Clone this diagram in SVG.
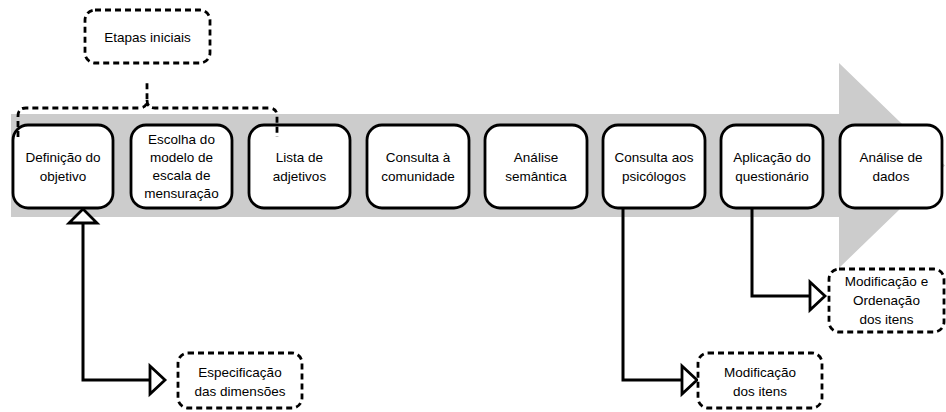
<svg xmlns="http://www.w3.org/2000/svg" width="946" height="412" viewBox="0 0 946 412">
<style>
.t{font-family:"Liberation Sans",Arial,sans-serif;font-size:13.5px;fill:#000;text-anchor:middle}
.box{fill:#fff;stroke:#000;stroke-width:2.8}
.dash{fill:#fff;stroke:#000;stroke-width:2.8;stroke-dasharray:6 4}
.ln{fill:none;stroke:#000;stroke-width:3}
.tri{fill:#fff;stroke:#000;stroke-width:2.8;stroke-linejoin:miter}
</style>
<rect width="946" height="412" fill="#fff"/>
<g id="big-arrow">
<polygon points="11,114 839,114 839,63 945,165.5 839,268 839,217 11,217" fill="#cccccc"/>
</g>
<g id="connectors">
<path class="ln" d="M83,223 L83,380 L150,380"/>
<polygon class="tri" points="83,209 97,223 69,223"/>
<polygon class="tri" points="150,366 165,380 150,394"/>
<path class="ln" d="M623,208 L623,380 L682,380"/>
<polygon class="tri" points="682,366 697,380 682,394"/>
<path class="ln" d="M752,208 L752,296 L810,296"/>
<polygon class="tri" points="810,282 825,296 810,310"/>
</g>
<g id="etapas">
<rect class="dash" x="85" y="10" width="125" height="53" rx="10"/>
<text class="t" x="147.5" y="42">Etapas iniciais</text>
</g>
<g id="n1">
<rect class="box" x="13" y="125" width="100" height="83" rx="15"/>
<text class="t" x="63" y="162">Definição do</text>
<text class="t" x="63" y="181">objetivo</text>
</g>
<g id="n2">
<rect class="box" x="131" y="125" width="101" height="83" rx="15"/>
<text class="t" x="181.5" y="144">Escolha do</text>
<text class="t" x="181.5" y="162">modelo de</text>
<text class="t" x="181.5" y="180">escala de</text>
<text class="t" x="181.5" y="198">mensuração</text>
</g>
<g id="n3">
<rect class="box" x="249" y="125" width="101" height="83" rx="15"/>
<text class="t" x="299.5" y="162">Lista de</text>
<text class="t" x="299.5" y="181">adjetivos</text>
</g>
<g id="n4">
<rect class="box" x="367" y="125" width="102" height="83" rx="15"/>
<text class="t" x="418" y="162">Consulta à</text>
<text class="t" x="418" y="181">comunidade</text>
</g>
<g id="n5">
<rect class="box" x="485" y="125" width="102" height="83" rx="15"/>
<text class="t" x="536" y="162">Análise</text>
<text class="t" x="536" y="181">semântica</text>
</g>
<g id="n6">
<rect class="box" x="603" y="125" width="102" height="83" rx="15"/>
<text class="t" x="654" y="162">Consulta aos</text>
<text class="t" x="654" y="181">psicólogos</text>
</g>
<g id="n7">
<rect class="box" x="721" y="125" width="102" height="83" rx="15"/>
<text class="t" x="772" y="162">Aplicação do</text>
<text class="t" x="772" y="181">questionário</text>
</g>
<g id="n8">
<rect class="box" x="840" y="125" width="102" height="83" rx="15"/>
<text class="t" x="891" y="162">Análise de</text>
<text class="t" x="891" y="181">dados</text>
</g>
<g id="especificacao">
<rect class="dash" x="178" y="353" width="124" height="55" rx="10"/>
<text class="t" x="240" y="377">Especificação</text>
<text class="t" x="240" y="396">das dimensões</text>
</g>
<g id="modificacao">
<rect class="dash" x="698" y="353" width="124" height="55" rx="10"/>
<text class="t" x="760" y="377">Modificação</text>
<text class="t" x="760" y="396">dos itens</text>
</g>
<g id="modificacao-ordenacao">
<rect class="dash" x="829" y="269" width="115" height="63" rx="10"/>
<text class="t" x="886.5" y="286">Modificação e</text>
<text class="t" x="886.5" y="305">Ordenação</text>
<text class="t" x="886.5" y="324">dos itens</text>
</g>
<g id="brace-connector">
<path d="M18,137 L18,116 Q18,108 26,108 L139,108 Q147,108 147,100 L147,80 M147,100 Q147,108 155,108 L269,108 Q277,108 277,116 L277,137" fill="none" stroke="#000" stroke-width="2.8" stroke-dasharray="6 4"/>
</g>
</svg>
